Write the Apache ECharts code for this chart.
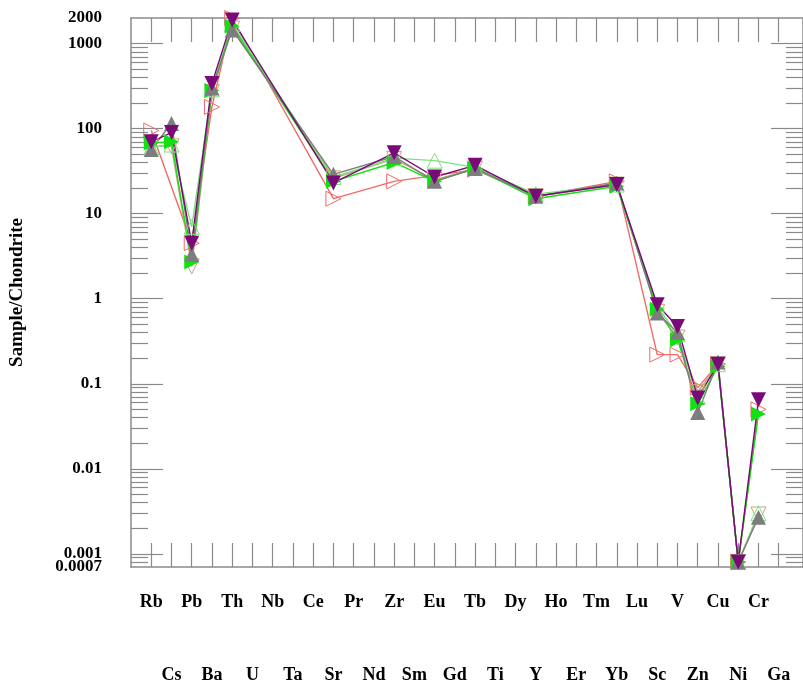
<!DOCTYPE html>
<html>
<head>
<meta charset="utf-8">
<script src="https://cdn.jsdelivr.net/npm/echarts@6/dist/echarts.min.js"></script>
<style>
  html, body { margin: 0; padding: 0; background: #fff; }
  #main { width: 803px; height: 684px; }
</style>
</head>
<body>
<div id="main"></div>
<script>
  // categories along the x axis (odd/even rows alternate)
  var categories = ['Rb', 'Cs', 'Pb', 'Ba', 'Th', 'U', 'Nb', 'Ta', 'Ce', 'Sr', 'Pr', 'Nd', 'Zr', 'Sm', 'Eu', 'Gd',
    'Tb', 'Ti', 'Dy', 'Y', 'Ho', 'Er', 'Tm', 'Yb', 'Lu', 'Sc', 'V', 'Zn', 'Cu', 'Ni', 'Cr', 'Ga'];

  // elements that carry values
  var elements = ['Rb', 'Cs', 'Pb', 'Ba', 'Th', 'Sr', 'Zr', 'Eu', 'Tb', 'Y', 'Yb', 'Sc', 'V', 'Zn', 'Cu', 'Ni', 'Cr'];

  // sample / chondrite values (null = not plotted)
  var redValues    = [95, null, 4.5, 180, 2000, 15, 24, null, 33, 16, 24, 0.22, 0.22, 0.09, 0.17, 0.0008, 0.05];
  var tanValues    = [62, 62, 2.4, 270, 1500, 26, 44, 25, 34, 16, 22, 0.7, 0.35, 0.08, 0.17, 0.0008, 0.0029];
  var lgreenValues = [60, 65, 7, 290, 1700, 27, 45, 42, 35, 17, 22, 0.8, 0.38, 0.07, 0.17, 0.0008, 0.003];
  var greenValues  = [68, 70, 2.7, 280, 1600, 24, 40, 24, 34, 15, 21, 0.75, 0.33, 0.058, 0.16, 0.0008, 0.044];
  var grayValues   = [57, 115, 3.3, 300, 1450, 29, 47, 24, 34, 16, 23, 0.68, 0.40, 0.046, 0.18, 0.0008, 0.0027];
  var purpleValues = [70, 90, 4.5, 340, 1900, 23, 52, 27, 37, 16, 22, 0.85, 0.47, 0.068, 0.17, 0.0008, 0.065];

  // y axis labels and ticks
  var yLabels = ['0.001', '0.01', '0.1', '1', '10', '100', '1000', '2000'];
  var yMinLabel = '0.0007';
  var yMajor = [0.001, 0.01, 0.1, 1, 10, 100, 1000];
  var yMinor = [0.0008, 0.0009];
  for (var e = -3; e <= 2; e++) {
    for (var m = 2; m <= 9; m++) {
      yMinor.push(+(m * Math.pow(10, e)).toPrecision(3));
    }
  }

  var catIndex = [];
  for (var i = 0; i < categories.length; i++) catIndex.push(i);

  function toData(vals) {
    var out = [];
    for (var i = 0; i < elements.length; i++) {
      if (vals[i] != null) out.push([categories.indexOf(elements[i]), vals[i]]);
    }
    return out;
  }

  function makeSeries(vals, color, symbolRotate, hollow, lineColor) {
    return {
      type: 'line',
      data: toData(vals),
      symbol: 'triangle',
      symbolSize: 15,
      symbolRotate: symbolRotate,
      showAllSymbol: true,
      lineStyle: { color: lineColor || color, width: 1.4 },
      itemStyle: hollow
        ? { color: 'rgba(255,255,255,0)', borderColor: color, borderWidth: 1 }
        : { color: color, borderWidth: 0 },
      emphasis: { disabled: true }
    };
  }

  var frameColor = '#8a8a8a';
  var serif = 'Liberation Serif';

  function yAxisBase(pos, ticks, len, showLine) {
    return {
      type: 'log',
      min: 0.0007,
      max: 2000,
      position: pos,
      axisLine: { show: showLine, onZero: false, lineStyle: { color: frameColor, width: 1.5 } },
      axisTick: { show: ticks.length > 0, inside: true, length: len, customValues: ticks, lineStyle: { color: frameColor, width: 1.2 } },
      axisLabel: { show: false },
      splitLine: { show: false }
    };
  }

  function yLabelStyle(values, names) {
    return {
      show: true,
      showMinLabel: true,
      showMaxLabel: true,
      customValues: values,
      margin: 29,
      fontSize: 17,
      fontFamily: serif,
      fontWeight: 'bold',
      color: '#000',
      formatter: function (v) {
        for (var i = 0; i < names.length; i++) {
          if (Math.abs(Math.log10(+names[i]) - Math.log10(v)) < 1e-2) return names[i];
        }
        return '';
      }
    };
  }

  var yMain = yAxisBase('left', yMajor, 32, true);
  yMain.axisLabel = yLabelStyle(yLabels.map(function (s) { return s === '2000' ? 1999 : +s; }), yLabels);
  yMain.name = 'Sample/Chondrite';
  yMain.nameLocation = 'middle';
  yMain.nameGap = 104;
  yMain.nameTextStyle = { fontSize: 19, fontFamily: serif, fontWeight: 'bold', color: '#000' };

  // the bottom label sits on its own axis so it does not hide 0.001
  var yBottom = yAxisBase('left', [], 0, false);
  yBottom.axisLabel = yLabelStyle([0.000702], [yMinLabel]);

  function xAxisBase(pos) {
    return {
      type: 'value',
      min: -1,
      max: 32.2,
      position: pos,
      axisLine: { onZero: false, lineStyle: { color: frameColor, width: 1.5 } },
      axisTick: { inside: true, length: 24, customValues: catIndex, lineStyle: { color: frameColor, width: 1.2 } },
      axisLabel: { show: false },
      splitLine: { show: false }
    };
  }

  var xMain = xAxisBase('bottom');
  xMain.axisLabel = {
    customValues: catIndex,
    margin: 26,
    fontSize: 18,
    fontFamily: serif,
    fontWeight: 'bold',
    color: '#000',
    formatter: function (v) {
      var name = categories[Math.round(v)] || '';
      return Math.round(v) % 2 === 0 ? name : '{lo|' + name + '}';
    },
    rich: { lo: { padding: [73, 0, 0, 0], fontSize: 18, fontFamily: serif, fontWeight: 'bold', color: '#000' } }
  };

  var option = {
    animation: false,
    backgroundColor: '#fff',
    grid: { left: 131, right: -5, top: 18, bottom: 116 },
    xAxis: [xMain, xAxisBase('top')],
    yAxis: [
      yMain,
      yAxisBase('left', yMinor, 17, false),
      yAxisBase('right', yMajor, 32, true),
      yAxisBase('right', yMinor, 17, false),
      yBottom
    ],
    series: [
      makeSeries(redValues, '#f06a6a', -90, true),
      makeSeries(tanValues, '#c9a27a', 180, true),
      makeSeries(lgreenValues, '#7fe07f', 0, true),
      makeSeries(greenValues, '#11e011', -90, false),
      makeSeries(grayValues, '#7d7d7d', 0, false),
      makeSeries(purpleValues, '#7a0a78', 180, false)
    ]
  };

  var myChart = echarts.init(document.getElementById('main'));
  myChart.setOption(option);
  window.addEventListener('resize', function () { myChart.resize(); });
</script>
</body>
</html>
